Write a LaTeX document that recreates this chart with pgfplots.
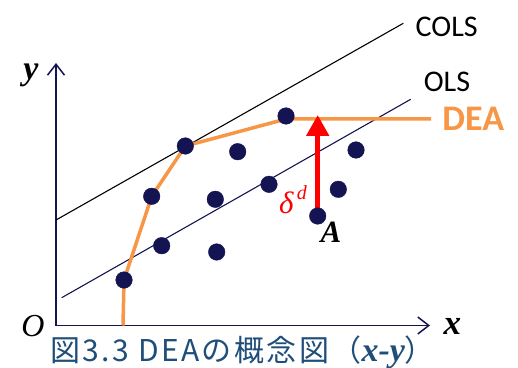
\documentclass[border=0pt]{standalone}
\usepackage{fontspec}
\usepackage{pgfplots}
\pgfplotsset{compat=1.18}
\usetikzlibrary{arrows.meta}
\setmainfont{Carlito}
\newfontfamily\tnr{Liberation Serif}
\newfontfamily\jp[LetterSpace=8]{Noto Sans CJK JP}
\definecolor{navy}{HTML}{141452}
\definecolor{deaorange}{HTML}{F79646}
\definecolor{capblue}{HTML}{1F4E79}
\begin{document}
\begin{tikzpicture}
\begin{axis}[
  width=518pt, height=367pt, scale only axis,
  xmin=0, xmax=518, ymin=0, ymax=367,
  axis lines=none, clip=false,
]
% keep the whole canvas as the picture's extent
\path[use as bounding box] (rel axis cs:0,0) rectangle (rel axis cs:1,1);
% axes with open arrow heads
\addplot[navy, line width=1.5pt, -{Straight Barb[length=11pt,width=17pt,line width=1.5pt]}]
  coordinates {(56,41.5) (56,304)};
\addplot[navy, line width=1.5pt, -{Straight Barb[length=11pt,width=17pt,line width=1.5pt]}]
  coordinates {(56,41.5) (430,41.5)};
% COLS and OLS lines
\addplot[black, line width=1.1pt] coordinates {(56,147) (403.3,343.7)};
\addplot[navy, line width=1.1pt] coordinates {(61.7,69.3) (410.7,267.7)};
% DEA frontier
\addplot[deaorange, line width=3.5pt, line join=round]
  coordinates {(123,41.5) (124,87) (151.7,170.7) (185.3,221) (286,248) (431,248)};
% decision making units
\addplot[only marks, mark=*, mark size=8.3pt, navy, mark options={fill=navy, draw=navy}]
  coordinates {
    (124,87) (161.7,121.3) (151.7,170.7) (185.3,221) (237.7,215.3)
    (215.3,167.7) (216.7,115) (286,251) (356,217) (269,182.7)
    (338.3,177.7) (317.7,151)
  };
% distance from A to the frontier
\addplot[red, line width=5pt, -{Triangle[length=21pt,width=22pt]}]
  coordinates {(317.7,151) (317.7,252)};
% labels
\node[font=\fontsize{30}{36}\selectfont] at (axis cs:446.7,340.3) {COLS};
\node[font=\fontsize{30}{36}\selectfont] at (axis cs:447,285.3) {OLS};
\node[font=\fontsize{36}{42}\selectfont\bfseries, text=deaorange] at (axis cs:473.3,248) {DEA};
\node[text=red, font=\tnr\fontsize{31}{36}\selectfont\itshape, inner sep=0pt] at (axis cs:293,167)
  {δ\raisebox{0.45em}{\fontsize{20}{24}\selectfont\,d}};
\node[font=\tnr\fontsize{31}{36}\selectfont\bfseries\itshape, inner sep=0pt] at (axis cs:331,134.3) {A};
\node[font=\tnr\fontsize{34}{40}\selectfont\bfseries\itshape, inner sep=0pt] at (axis cs:31,292) {y};
\node[font=\tnr\fontsize{32}{38}\selectfont\itshape, inner sep=0pt] at (axis cs:33,41) {O};
\node[font=\tnr\fontsize{35}{40}\selectfont\bfseries\itshape, inner sep=0pt] at (axis cs:452.3,41) {x};
\node[anchor=west, text=capblue, font=\jp\fontsize{30}{34}\selectfont, inner sep=0pt]
  at (axis cs:50,15) {図3.3 DEAの概念図（{\tnr\fontsize{34}{38}\selectfont\bfseries\itshape x-y}）};
\end{axis}
\end{tikzpicture}
\end{document}
